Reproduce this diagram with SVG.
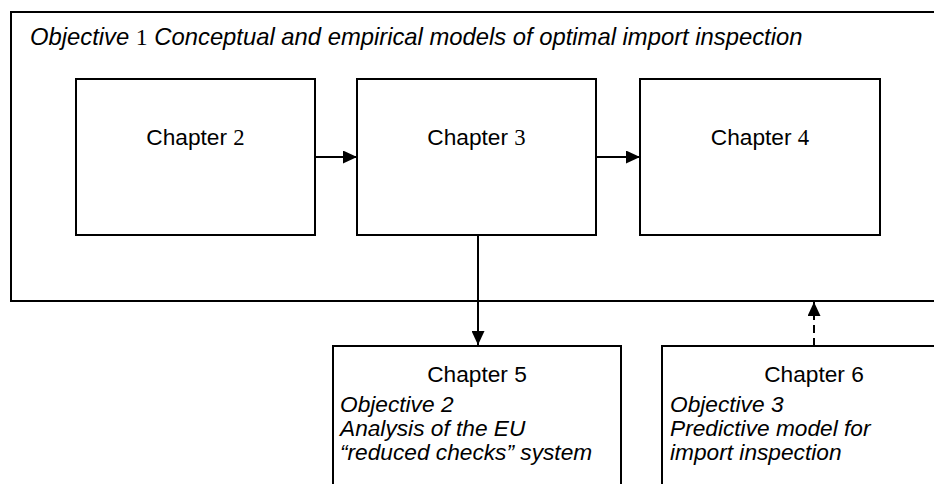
<svg xmlns="http://www.w3.org/2000/svg" width="934" height="484" viewBox="0 0 934 484">
<defs>
<marker id="ah" markerUnits="userSpaceOnUse" markerWidth="14" markerHeight="13" refX="14" refY="6.5" orient="auto">
<path d="M0,0 L14,6.5 L0,13 Z" fill="#000"/>
</marker>
</defs>
<style>
.box{fill:#fff;stroke:#000;stroke-width:2}
.t{font-family:"Liberation Sans",Arial,sans-serif;font-size:22.7px;fill:#000}
.ttl{font-size:23.8px}
.i{font-style:italic}
.n{font-family:"Liberation Serif","Times New Roman",serif;font-style:normal}
.c{stroke:#000;stroke-width:2;fill:none}
</style>
<g id="objective1">
<rect class="box" x="11" y="12" width="940" height="289"/>
<text class="t i ttl" x="30" y="45">Objective <tspan class="n">1</tspan> Conceptual and empirical models of optimal import inspection</text>
</g>
<g id="chapter2">
<rect class="box" x="76" y="79" width="239" height="156"/>
<text class="t" x="195.5" y="145" text-anchor="middle">Chapter <tspan class="n">2</tspan></text>
</g>
<g id="chapter3">
<rect class="box" x="357" y="79" width="239" height="156"/>
<text class="t" x="476.5" y="145" text-anchor="middle">Chapter <tspan class="n">3</tspan></text>
</g>
<g id="chapter4">
<rect class="box" x="640" y="79" width="240" height="156"/>
<text class="t" x="760" y="145" text-anchor="middle">Chapter <tspan class="n">4</tspan></text>
</g>
<g id="chapter5">
<rect class="box" x="333" y="346" width="288" height="150"/>
<text class="t" x="477" y="382" text-anchor="middle">Chapter 5</text>
<text class="t i" x="340" y="412">Objective 2</text>
<text class="t i" x="340" y="436">Analysis of the EU</text>
<text class="t i" x="340" y="460">“reduced checks” system</text>
</g>
<g id="chapter6">
<rect class="box" x="662" y="346" width="300" height="150"/>
<text class="t" x="814" y="382" text-anchor="middle">Chapter 6</text>
<text class="t i" x="670" y="412">Objective 3</text>
<text class="t i" x="670" y="436">Predictive model for</text>
<text class="t i" x="670" y="460">import inspection</text>
</g>
<g id="connectors">
<line class="c" x1="315" y1="157" x2="357" y2="157" marker-end="url(#ah)"/>
<line class="c" x1="596" y1="157" x2="640" y2="157" marker-end="url(#ah)"/>
<line class="c" x1="478" y1="235" x2="478" y2="345" marker-end="url(#ah)"/>
<line class="c" x1="814" y1="346" x2="814" y2="302" stroke-dasharray="8,5" marker-end="url(#ah)"/>
</g>
</svg>
